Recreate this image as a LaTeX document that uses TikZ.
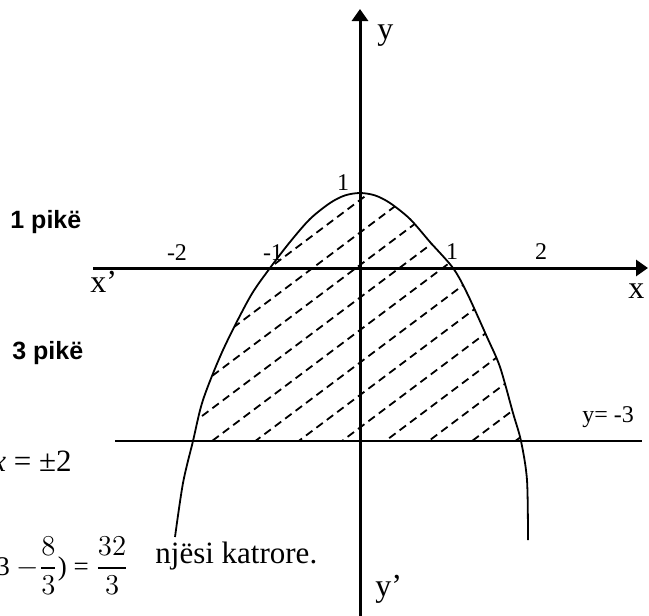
\documentclass[tikz,border=0pt]{standalone}
\usepackage{amsmath}
\usepackage{fontspec}
\setmainfont{Liberation Serif}
\newfontfamily\pikefont{Liberation Sans}
\usetikzlibrary{arrows.meta}

\begin{document}
\begin{tikzpicture}[
    x=0.5pt, y=-0.5pt,
    every node/.style={inner sep=0pt},
    axis/.style={line width=1.5pt, -{Triangle[width=8pt,length=6pt]}},
    hatch/.style={line width=0.9pt, dash pattern=on 4pt off 2.5pt},
    letter/.style={font=\fontsize{16}{18}\selectfont, anchor=base west},
    num/.style={font=\fontsize{12}{14}\selectfont, anchor=base},
    pike/.style={font=\pikefont\bfseries\fontsize{12.5}{14}\selectfont, anchor=base west}
]
\useasboundingbox (0,0) rectangle (649,616);

\begin{scope}
\clip (0,0) rectangle (649,441);
\clip plot[smooth] coordinates {(175,537) (183,483) (193,441) (203,400) (223,350) (250,297) (270,268) (290,242) (310,219) (330,203) (345,195.4) (360,193) (375,195.4) (390,203) (410,219) (430,242) (453,268) (467,293) (487,337) (500,367) (513,413) (521,441) (527,480) (528,540)} -- cycle;
\foreach \c in {200,232.5,...,560} {
    \draw[hatch] (150,\c+157.5) -- (570,\c-157.5);
}
\end{scope}

\draw[line width=0.9pt] plot[smooth] coordinates {(175,537) (183,483) (193,441) (203,400) (223,350) (250,297) (270,268) (290,242) (310,219) (330,203) (345,195.4) (360,193) (375,195.4) (390,203) (410,219) (430,242) (453,268) (467,293) (487,337) (500,367) (513,413) (521,441) (527,480) (528,540)};

\draw[line width=1pt] (115,441) -- (642,441);
\draw[axis] (93,268) -- (648,268);
\draw[axis] (360,616) -- (360,9);

\node[pike] (pike1) at (10,228) {1 pikë};
\node[pike] (pike3) at (12,359) {3 pikë};

\node[letter] (ylab) at (377,39) {y};
\node[letter] (yprime) at (375,596) {y’};
\node[letter] (xprime) at (90,292) {x’};
\node[letter] (xlab) at (628,298) {x};

\node[num] (mtwo) at (177,260) {-2};
\node[num] (mone) at (273,260) {-1};
\node[num] (pone) at (452,259) {1};
\node[num] (ptwo) at (541,259) {2};
\node[num] (vertex) at (343,190) {1};
\node[num, anchor=base west] (line) at (582,422) {y= -3};

\node[letter, anchor=base east, font=\fontsize{15.5}{18}\selectfont] (roots) at (72,471) {\textit{x} = ±2};
\node[font=\fontsize{13.5}{16}\selectfont, anchor=east] (area) at (129,566) {3 $-\dfrac{8}{3}$) = $\dfrac{32}{3}$};
\node[letter, font=\fontsize{15.5}{18}\selectfont] (unit) at (155,563) {njësi katrore.};
\end{tikzpicture}
\end{document}
